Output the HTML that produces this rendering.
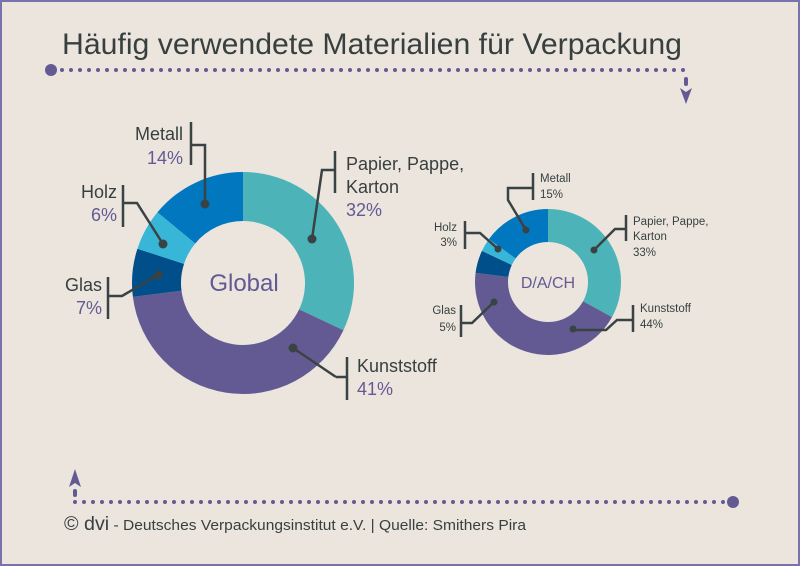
<!DOCTYPE html>
<html><head><meta charset="utf-8"><style>
html,body{margin:0;padding:0;background:#ebe5de}
svg{display:block}
text{font-family:"Liberation Sans",sans-serif}
</style></head><body>
<svg id="s" width="800" height="566" viewBox="0 0 800 566" xmlns="http://www.w3.org/2000/svg">
<rect x="1" y="1" width="798" height="564" fill="#ebe5de" stroke="#7a72aa" stroke-width="2"/>
<text x="62" y="54" font-size="30" fill="#38403f" textLength="620" lengthAdjust="spacingAndGlyphs">Häufig verwendete Materialien für Verpackung</text>
<circle cx="51" cy="70" r="6" fill="#635a93"/>
<line x1="62" y1="70" x2="686" y2="70" stroke="#635a93" stroke-width="4" stroke-linecap="round" stroke-dasharray="0 9"/>
<line x1="686" y1="79" x2="686" y2="84" stroke="#635a93" stroke-width="4" stroke-linecap="round"/>
<polygon points="680,88 686,92 692,88 686,104" fill="#635a93"/>
<polygon points="69,487 75,483 81,487 75,469" fill="#635a93"/>
<line x1="75" y1="491" x2="75" y2="495" stroke="#635a93" stroke-width="4" stroke-linecap="round"/>
<line x1="75" y1="502" x2="725" y2="502" stroke="#635a93" stroke-width="4" stroke-linecap="round" stroke-dasharray="0 9"/>
<circle cx="733" cy="502" r="6" fill="#635a93"/>
<text x="64" y="530" fill="#38403f" textLength="462" lengthAdjust="spacingAndGlyphs"><tspan font-size="19">© dvi</tspan><tspan font-size="15"> - Deutsches Verpackungsinstitut e.V. | Quelle: Smithers Pira</tspan></text>
<g id="d"></g>
<g fill="none" stroke="#3a4343" stroke-width="2.5">
<path d="M191,122V165M191,145H205V204"/>
<path d="M123,185V227M123,203H137L163,244"/>
<path d="M108,277V319M108,296H122L158,275"/>
<path d="M335,151V193M335,170H322L312,239"/>
<path d="M293,348L336,377M347,357V400M336,377H347"/>
<path d="M533,173V200M533,188H508V200L526,230"/>
<path d="M465,221V249M465,233H480L498,249"/>
<path d="M626,215V241M626,229H615L594,250"/>
<path d="M633,305V332M633,320H617L606,330H573"/>
<path d="M461,305V337M461,323H472L494,302"/>
</g>
<g fill="#3a4343">
<circle cx="205" cy="204" r="4.5"/><circle cx="163" cy="244" r="4.5"/><circle cx="158" cy="275" r="4.5"/><circle cx="312" cy="239" r="4.5"/><circle cx="293" cy="348" r="4.5"/>
<circle cx="526" cy="230" r="3.5"/><circle cx="498" cy="249" r="3.5"/><circle cx="594" cy="250" r="3.5"/><circle cx="573" cy="329" r="3.5"/><circle cx="494" cy="302" r="3.5"/>
</g>
<g font-size="18" fill="#38403f">
<text x="183" y="140" text-anchor="end">Metall</text>
<text x="117" y="198" text-anchor="end">Holz</text>
<text x="102" y="291" text-anchor="end">Glas</text>
<text x="346" y="170">Papier, Pappe,</text>
<text x="346" y="193">Karton</text>
<text x="357" y="372">Kunststoff</text>
</g>
<g font-size="18" fill="#635a93">
<text x="183" y="164" text-anchor="end">14%</text>
<text x="117" y="221" text-anchor="end">6%</text>
<text x="102" y="314" text-anchor="end">7%</text>
<text x="346" y="216">32%</text>
<text x="357" y="395">41%</text>
</g>
<g font-size="11.5" fill="#38403f">
<text x="540" y="182">Metall</text><text x="540" y="198">15%</text>
<text x="457" y="231" text-anchor="end">Holz</text><text x="457" y="246" text-anchor="end">3%</text>
<text x="633" y="225">Papier, Pappe,</text><text x="633" y="240">Karton</text><text x="633" y="256">33%</text>
<text x="640" y="312">Kunststoff</text><text x="640" y="328">44%</text>
<text x="456" y="314" text-anchor="end">Glas</text><text x="456" y="331" text-anchor="end">5%</text>
</g>
<text x="244" y="291" font-size="24" fill="#635a93" text-anchor="middle">Global</text>
<text x="548" y="288" font-size="16" fill="#635a93" text-anchor="middle">D/A/CH</text>
</svg>
<script>
var cols=["#4cb3b9","#635a93","#004f8b","#38b6d8","#0077be"];
function donut(cx,cy,R,r,vals){
 var g=document.getElementById("d"),a=0,s="";
 vals.forEach(function(v,i){
  var a1=a,a2=a+v/100*2*Math.PI;a=a2;
  function p(rad,an){return [cx+rad*Math.sin(an),cy-rad*Math.cos(an)];}
  var L=(a2-a1)>Math.PI?1:0,p1=p(R,a1),p2=p(R,a2),p3=p(r,a2),p4=p(r,a1);
  s+='<path fill="'+cols[i]+'" d="M'+p1+'A'+R+','+R+' 0 '+L+' 1 '+p2+'L'+p3+'A'+r+','+r+' 0 '+L+' 0 '+p4+'Z"/>';
 });
 g.innerHTML+=s;
}
donut(243,283,111,62,[32,41,7,6,14]);
donut(548,282,73,40,[33,44,5,3,15]);
</script>
</body></html>
